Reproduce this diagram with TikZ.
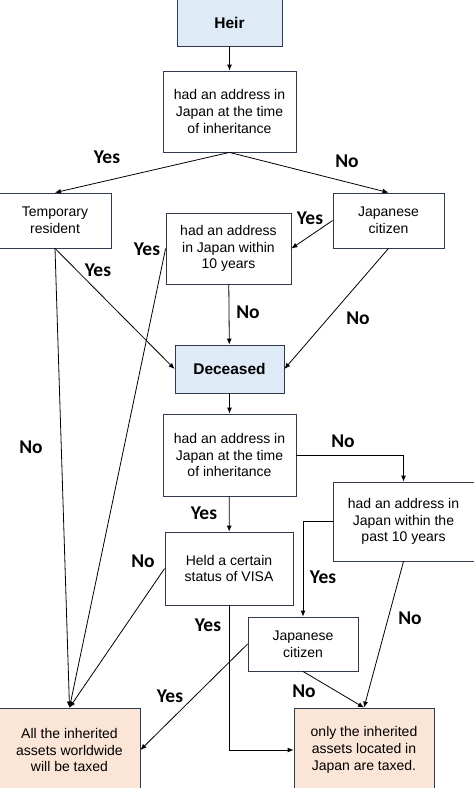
\documentclass[tikz,border=0pt]{standalone}
\usepackage{fontspec}
\setmainfont{Liberation Sans}
\newfontfamily\lblfont{Carlito}
\usepackage{tikz}
\usetikzlibrary{arrows.meta}

\definecolor{boxline}{HTML}{2F3A4D}
\definecolor{blueish}{HTML}{DEEBF7}
\definecolor{peach}{HTML}{FBE5D6}

\begin{document}
\begin{tikzpicture}
  \tikzset{x=1pt, y=-1pt}
  \tikzset{>={Latex[length=6pt,width=5pt]}}

  \tikzset{step box/.style={rectangle, draw=boxline, line width=0.8pt, inner sep=0pt,
      align=center, font=\fontsize{14}{16.7}\selectfont}}
  \tikzset{start box/.style={step box, fill=blueish, font=\fontsize{15.5}{18}\selectfont\bfseries}}
  \tikzset{result box/.style={step box, fill=peach}}
  \tikzset{answer/.style={font=\lblfont\fontsize{19.5}{22}\selectfont\bfseries}}
  \tikzset{flow/.style={->, line width=0.8pt}}

  \useasboundingbox (0,0) rectangle (474,788);

  \node[start box, minimum width=105pt, minimum height=47pt] (heir) at (229.5,22.5) {Heir};
  \node[step box, minimum width=133pt, minimum height=81pt] (heiraddr) at (229.5,111.5)
    {had an address in\\Japan at the time\\of inheritance};
  \node[step box, minimum width=112pt, minimum height=55pt] (temp) at (55,220.5)
    {Temporary\\resident};
  \node[step box, minimum width=111pt, minimum height=55pt] (citizenA) at (388.5,220.5)
    {Japanese\\citizen};
  \node[step box, minimum width=125pt, minimum height=71pt] (heirten) at (228.5,248.5)
    {had an address\\in Japan within\\10 years};
  \node[start box, minimum width=109pt, minimum height=48pt] (deceased) at (229.5,369) {Deceased};

  \node[step box, minimum width=133pt, minimum height=82pt] (decaddr) at (229.5,455)
    {had an address in\\Japan at the time\\of inheritance};
  \node[step box, minimum width=141pt, minimum height=79pt] (decten) at (403.5,521.5)
    {had an address in\\Japan within the\\past 10 years};
  \node[step box, minimum width=128pt, minimum height=73pt] (visa) at (229,568.5)
    {Held a certain\\status of VISA};
  \node[step box, minimum width=110pt, minimum height=54pt] (citizenB) at (303,644)
    {Japanese\\citizen};

  \node[result box, minimum width=141pt, minimum height=84pt] (world) at (69.5,750)
    {All the inherited\\assets worldwide\\will be taxed};
  \node[result box, minimum width=140pt, minimum height=84pt] (local) at (364,750)
    {only the inherited\\assets located in\\Japan are taxed.};

  % heir side
  \draw[flow] (heir) -- (heiraddr);
  \draw[flow] (heiraddr.south) -- (temp.north);
  \draw[flow] (heiraddr.south) -- (citizenA.north);
  \draw[flow] (citizenA.west) -- (heirten.east);
  \draw[flow] (heirten) -- (deceased);
  \draw[flow] (citizenA.south) -- (deceased.east);
  \draw[flow] (temp.south) -- (deceased.west);
  \draw[flow] (temp.south) -- (world.north);
  \draw[flow] (heirten.west) -- (world.north);

  % deceased side
  \draw[flow] (deceased) -- (decaddr);
  \draw[flow] (decaddr.east) -| (decten.north);
  \draw[flow] (decaddr) -- (visa);
  \draw[flow] (visa.west) -- (world.north);
  \draw[flow] (visa.south) |- (local.west);
  \draw[flow] (decten.west) -| (citizenB.north);
  \draw[flow] (citizenB.west) -- (world.east);
  \draw[flow] (citizenB.south) -- (local.north);
  \draw[flow] (decten.south) -- (local.north);

  \node[answer] (y1) at (107,157) {Yes};
  \node[answer] (n1) at (347,161) {No};
  \node[answer] (y2) at (310,218) {Yes};
  \node[answer] (y3) at (147,249) {Yes};
  \node[answer] (y4) at (98,270) {Yes};
  \node[answer] (n2) at (248,312) {No};
  \node[answer] (n3) at (358,318) {No};
  \node[answer] (n4) at (31,447) {No};
  \node[answer] (n5) at (343,441) {No};
  \node[answer] (y5) at (204,513) {Yes};
  \node[answer] (n6) at (143,561) {No};
  \node[answer] (y6) at (323,577) {Yes};
  \node[answer] (y7) at (208,625) {Yes};
  \node[answer] (n7) at (410,618) {No};
  \node[answer] (y8) at (170,696) {Yes};
  \node[answer] (n8) at (304,691) {No};
\end{tikzpicture}
\end{document}
